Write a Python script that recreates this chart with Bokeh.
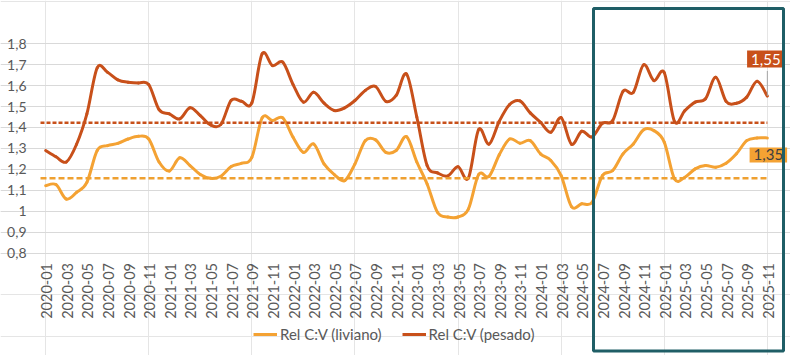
import math
from bokeh.plotting import figure
from bokeh.models import (Range1d, FixedTicker, Grid, BoxAnnotation,
                          Label, Legend, LegendItem)
from bokeh.core.properties import value
from bokeh.embed import file_html
from bokeh.resources import INLINE

# ---------------- data ----------------
months = [f"{y}-{m:02d}" for y in range(2020, 2026) for m in range(1, 13)][:71]

liviano = [1.122, 1.127, 1.058, 1.090, 1.138, 1.290, 1.313, 1.324, 1.345, 1.358, 1.345, 1.235,
           1.192, 1.255, 1.218, 1.175, 1.157, 1.167, 1.213, 1.229, 1.257, 1.446, 1.433, 1.446,
           1.353, 1.281, 1.321, 1.226, 1.175, 1.146, 1.226, 1.337, 1.341, 1.281, 1.290, 1.356,
           1.235, 1.130, 0.995, 0.972, 0.972, 1.010, 1.175, 1.166, 1.270, 1.345, 1.325, 1.337,
           1.274, 1.242, 1.170, 1.022, 1.035, 1.042, 1.170, 1.194, 1.274, 1.321, 1.389, 1.385,
           1.330, 1.154, 1.162, 1.202, 1.218, 1.210, 1.229, 1.274, 1.337, 1.350, 1.350]

pesado = [1.290, 1.260, 1.235, 1.320, 1.465, 1.685, 1.664, 1.628, 1.616, 1.613, 1.605, 1.485,
          1.465, 1.441, 1.494, 1.457, 1.412, 1.415, 1.530, 1.525, 1.518, 1.752, 1.696, 1.712,
          1.605, 1.521, 1.568, 1.516, 1.481, 1.494, 1.529, 1.577, 1.596, 1.525, 1.553, 1.656,
          1.450, 1.218, 1.183, 1.168, 1.212, 1.158, 1.390, 1.320, 1.430, 1.510, 1.527, 1.470,
          1.425, 1.377, 1.447, 1.320, 1.382, 1.355, 1.420, 1.433, 1.573, 1.568, 1.700, 1.624,
          1.662, 1.428, 1.481, 1.521, 1.537, 1.640, 1.525, 1.516, 1.545, 1.621, 1.550]

avg_liviano = 1.157
avg_pesado = 1.423
y_ticks = [0.8, 0.9, 1.0, 1.1, 1.2, 1.3, 1.4, 1.5, 1.6, 1.7, 1.8]
series_names = ["Rel C:V (liviano)", "Rel C:V (pesado)"]

# ---------------- style / layout ----------------
FONT = "Lato"
C_LIV = "#F4A233"
C_LIV_AVG = "#EFA030"
C_PES = "#C8501A"
C_BOX = "#1F5E66"
C_TXT = "#595959"

W, H = 790, 355
PL, PR, PT, PB = 40.0, 772.0, 43.3, 252.5   # plot area in canvas pixels

n = len(months)
ppx = (PR - PL) / n                  # pixels per category
ppy = (PB - PT) / (y_ticks[-1] - y_ticks[0])
x_start = -0.5 - PL / ppx
x_end = n - 0.5 + (W - PR) / ppx
y_end = y_ticks[-1] + PT / ppy
y_start = y_ticks[0] - (H - PB) / ppy

p = figure(width=W, height=H, output_backend="svg", toolbar_location=None,
           x_range=Range1d(x_start, x_end), y_range=Range1d(y_start, y_end),
           x_axis_location=None, y_axis_location=None,
           min_border=0, min_border_left=0, min_border_right=0,
           min_border_top=0, min_border_bottom=0)
p.outline_line_color = None
p.background_fill_color = "white"
p.border_fill_color = "white"

p.add_layout(Grid(dimension=1, ticker=FixedTicker(ticks=y_ticks), bounds=(-0.5, n - 0.5),
                  grid_line_color="#D9D9D9", grid_line_width=1))

# y tick labels
def ylab(v):
    s = f"{v:.1f}".replace(".", ",")
    return s[:-2] if s.endswith(",0") else s

p.text(x=[-0.5] * len(y_ticks), y=y_ticks, text=[ylab(v) for v in y_ticks],
       x_offset=-14, text_align="right", text_baseline="middle",
       text_font=value(FONT), text_font_size="14px", text_color=C_TXT)

# x tick labels (every second month, vertical)
xt = list(range(0, n, 2))
p.text(x=xt, y=[y_ticks[0]] * len(xt), text=[months[i] for i in xt],
       angle=math.pi / 2, x_offset=1, y_offset=10, text_align="right",
       text_baseline="middle", text_font=value(FONT), text_font_size="14.5px",
       text_color=C_TXT)


def smooth_segments(vals):
    """Cubic Bezier control points (Catmull-Rom, as Excel's smoothed line)."""
    xs = list(range(len(vals)))
    seg = dict(x0=[], y0=[], x1=[], y1=[], cx0=[], cy0=[], cx1=[], cy1=[])
    for i in range(len(vals) - 1):
        i0 = max(i - 1, 0)
        i3 = min(i + 2, len(vals) - 1)
        seg["x0"].append(xs[i]); seg["y0"].append(vals[i])
        seg["x1"].append(xs[i + 1]); seg["y1"].append(vals[i + 1])
        seg["cx0"].append(xs[i] + (xs[i + 1] - xs[i0]) / 6)
        seg["cy0"].append(vals[i] + (vals[i + 1] - vals[i0]) / 6)
        seg["cx1"].append(xs[i + 1] - (xs[i3] - xs[i]) / 6)
        seg["cy1"].append(vals[i + 1] - (vals[i3] - vals[i]) / 6)
    return seg


for vals, col in ((liviano, C_LIV), (pesado, C_PES)):
    s = smooth_segments(vals)
    p.bezier(x0=s["x0"], y0=s["y0"], x1=s["x1"], y1=s["y1"],
             cx0=s["cx0"], cy0=s["cy0"], cx1=s["cx1"], cy1=s["cy1"],
             line_color=col, line_width=3, line_cap="round")

# average dashed lines
p.line(x=[-0.5, n - 1], y=[avg_pesado, avg_pesado], line_color=C_PES, line_width=2.5,
       line_dash="4 2")
p.line(x=[-0.5, n - 1], y=[avg_liviano, avg_liviano], line_color=C_LIV_AVG, line_width=2.5,
       line_dash="6 3")

# leader line for last pesado label
p.segment(x0=[n - 1], y0=[pesado[-1]], x1=[n - 1], y1=[pesado[-1] + 0.12],
          line_color="#A6A6A6", line_width=1)

# end labels
def fmt(v):
    return f"{v:.2f}".replace(".", ",")

p.add_layout(Label(x=n - 1, y=pesado[-1], text=fmt(pesado[-1]), x_offset=-1.5, y_offset=37,
                   text_align="center", text_baseline="middle", text_font=FONT,
                   text_font_size="15px", text_color="white",
                   background_fill_color=C_PES, padding=(4, 3)))
p.add_layout(Label(x=n - 1, y=liviano[-1], text=fmt(liviano[-1]), x_offset=1, y_offset=-17,
                   text_align="center", text_baseline="middle", text_font=FONT,
                   text_font_size="15px", text_color="#404040",
                   background_fill_color=C_LIV, padding=(4, 2)))

# highlight box (last months)
p.add_layout(BoxAnnotation(left=593, right=783, top=4.5, bottom=347,
                           left_units="screen", right_units="screen",
                           top_units="screen", bottom_units="screen",
                           fill_alpha=0, line_color=C_BOX, line_alpha=1.0, line_width=3))

# legend (legend-only renderers, no visible marks)
nan = float("nan")
r_l = p.line(x=[nan], y=[nan], line_color=C_LIV, line_width=3)
r_p = p.line(x=[nan], y=[nan], line_color=C_PES, line_width=3)
legend = Legend(items=[LegendItem(label=series_names[0], renderers=[r_l]),
                       LegendItem(label=series_names[1], renderers=[r_p])],
                orientation="horizontal", location=(253, 11),
                border_line_color=None, background_fill_alpha=0,
                padding=0, margin=0, spacing=20, glyph_width=24, label_standoff=3,
                label_text_font=FONT, label_text_font_size="15px",
                label_text_color=C_TXT)
p.add_layout(legend)

open("out.html", "w").write(file_html(p, INLINE))
